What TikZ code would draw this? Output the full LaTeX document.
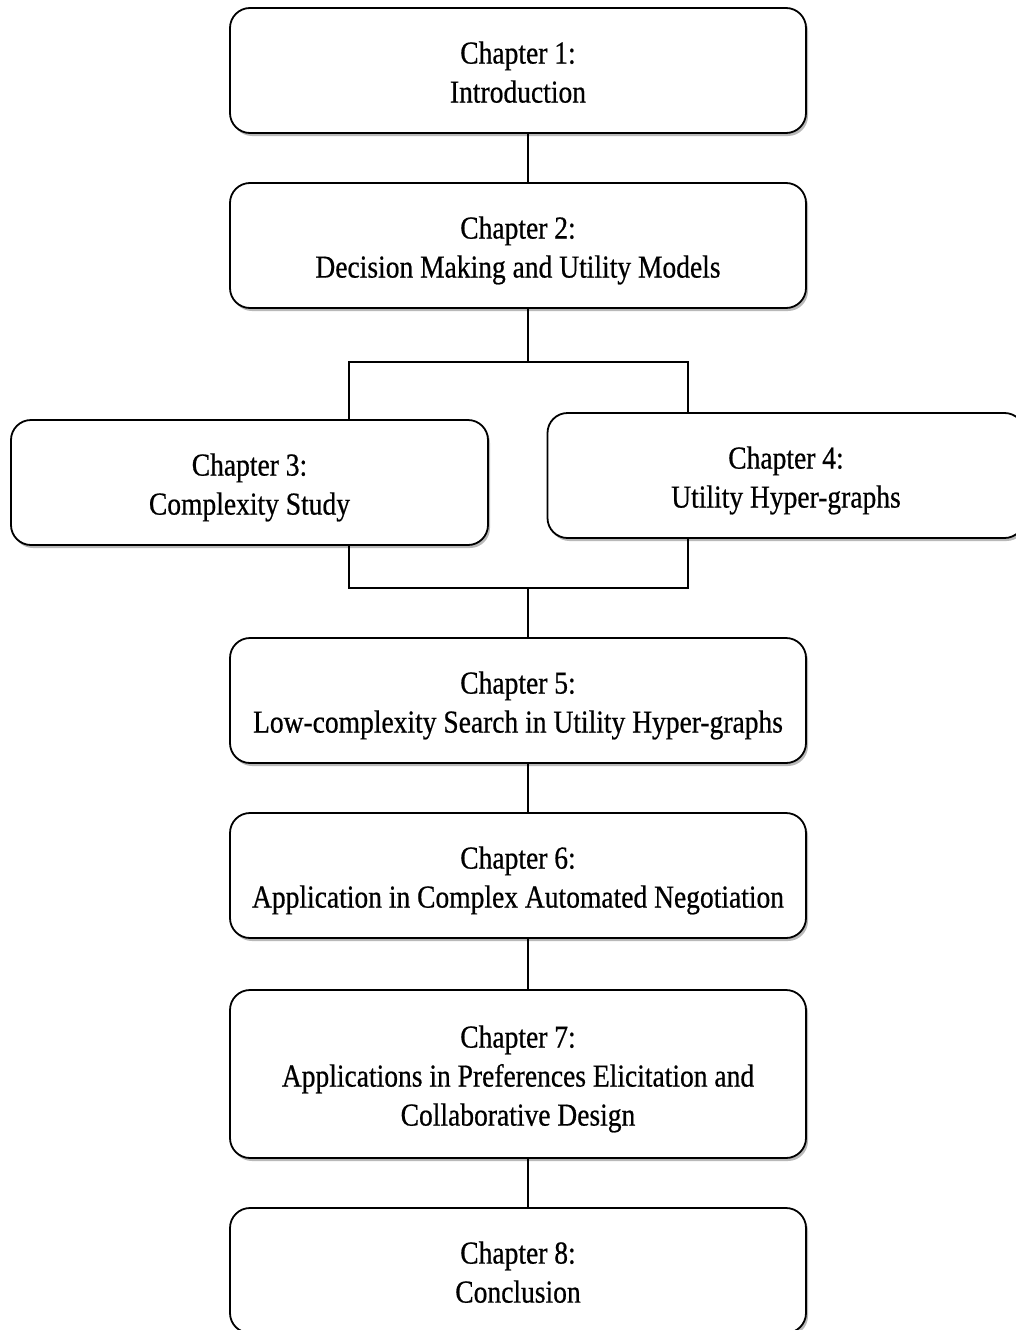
\documentclass[tikz,border=0pt]{standalone}
\usepackage{fontspec}
\setmainfont{Liberation Serif}[FakeStretch=0.86, FakeBold=0.6]
\usetikzlibrary{shadows}
% centred block of lines, set a little below the middle of its box
\newcommand\chaptext[1]{\raisebox{-11pt}[0pt][0pt]{\begin{tabular}{@{}c@{}}#1\end{tabular}}}
\begin{document}
\begin{tikzpicture}[x=1pt,y=-1pt,
  chapbox/.style={draw=black, line width=1.8pt, fill=white, rounded corners=20pt,
    minimum width=576pt, minimum height=125pt, inner sep=0pt,
    font=\fontsize{32}{39}\selectfont,
    drop shadow={opacity=0.55, shadow xshift=2pt, shadow yshift=-3pt}},
  sidebox/.style={chapbox, minimum width=477pt},
  link/.style={draw=black, line width=1.8pt}]
\useasboundingbox[fill=white] (0,0) rectangle (1016,1330);
% chapter boxes
\node[chapbox] (c1) at (518,70.5) {\chaptext{Chapter 1:\\Introduction}};
\node[chapbox] (c2) at (518,245.5) {\chaptext{Chapter 2:\\Decision Making and Utility Models}};
\node[sidebox] (c3) at (249.5,482.5) {\chaptext{Chapter 3:\\Complexity Study}};
\node[sidebox] (c4) at (786,475.5) {\chaptext{Chapter 4:\\Utility Hyper-graphs}};
\node[chapbox] (c5) at (518,700.5) {\chaptext{Chapter 5:\\Low-complexity Search in Utility Hyper-graphs}};
\node[chapbox] (c6) at (518,875.5) {\chaptext{Chapter 6:\\Application in Complex Automated Negotiation}};
\node[chapbox, minimum height=168pt] (c7) at (518,1074) {\chaptext{Chapter 7:\\Applications in Preferences Elicitation and\\Collaborative Design}};
\node[chapbox] (c8) at (518,1270.5) {\chaptext{Chapter 8:\\Conclusion}};
% junction points of the split and merge
\coordinate (split) at (528,362);
\coordinate (merge) at (528,588);
% connectors
\draw[link] ([xshift=10pt]c1.south) -- ([xshift=10pt]c2.north);
\draw[link] ([xshift=10pt]c2.south) -- (split);
\draw[link] ([xshift=99.5pt]c3.north) |- (split) -| ([xshift=-98pt]c4.north);
\draw[link] ([xshift=99.5pt]c3.south) |- (merge) -| ([xshift=-98pt]c4.south);
\draw[link] (merge) -- ([xshift=10pt]c5.north);
\draw[link] ([xshift=10pt]c5.south) -- ([xshift=10pt]c6.north);
\draw[link] ([xshift=10pt]c6.south) -- ([xshift=10pt]c7.north);
\draw[link] ([xshift=10pt]c7.south) -- ([xshift=10pt]c8.north);
\end{tikzpicture}
\end{document}
